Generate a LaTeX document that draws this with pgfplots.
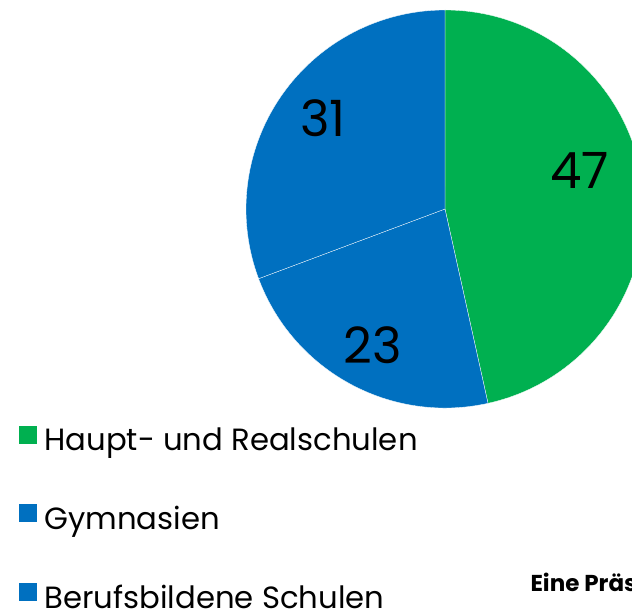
\documentclass[border=0pt]{standalone}
\usepackage{fontspec}
\setmainfont{Poppins}
\usepackage{pgfplots}
\usepackage{pgfplotstable}
\pgfplotsset{compat=1.18}
\definecolor{hrgreen}{HTML}{00B050}
\definecolor{gyblue}{HTML}{0070C0}
\definecolor{bsblue}{HTML}{0070C0}

\pgfplotstableread{
value color lx ly
47 hrgreen 0.678 0.196
23 gyblue -0.362 -0.683
31 bsblue -0.613 0.457
}\piedata

\begin{document}
\begin{tikzpicture}
\useasboundingbox (0,0) rectangle (632pt,613pt);
\clip (0,0) rectangle (632pt,613pt);
\begin{axis}[
  at={(445pt,404pt)}, anchor=center,
  width=398pt, height=398pt, scale only axis,
  hide axis, clip=false,
  xmin=-1, xmax=1, ymin=-1, ymax=1,
  legend style={at={(axis description cs:-0.57,-0.045)}, anchor=north west,
    draw=none, fill=none, inner sep=0pt, outer sep=0pt,
    font=\fontsize{30.7}{36}\selectfont, row sep=52pt, column sep=8pt,
    nodes={inner sep=0pt}},
  legend cell align=left,
]
\pgfmathsetmacro\total{0}
\pgfplotsforeachungrouped \r in {0,1,2}{%
  \pgfplotstablegetelem{\r}{value}\of\piedata\let\pv\pgfplotsretval
  \pgfmathsetmacro\total{\total+\pv}%
}
\pgfmathsetmacro\startang{90}
\pgfplotsforeachungrouped \r in {0,1,2}{%
  \pgfplotstablegetelem{\r}{value}\of\piedata\let\pv\pgfplotsretval
  \pgfplotstablegetelem{\r}{color}\of\piedata\let\pc\pgfplotsretval
  \pgfplotstablegetelem{\r}{lx}\of\piedata\let\lx\pgfplotsretval
  \pgfplotstablegetelem{\r}{ly}\of\piedata\let\ly\pgfplotsretval
  \pgfmathsetmacro\endang{\startang-\pv/\total*360}%
  \pgfmathsetmacro\sx{cos(\startang)}%
  \pgfmathsetmacro\sy{sin(\startang)}%
  \edef\temp{\noexpand\fill[fill=\pc, draw=white, line width=0.3pt] (axis cs:0,0) -- (axis cs:\sx,\sy) arc[start angle=\startang, end angle=\endang, radius=199pt] -- cycle;
    \noexpand\node[font=\noexpand\fontsize{50}{60}\noexpand\selectfont, text=black] at (axis cs:\lx,\ly) {\pv};}%
  \temp
  \global\let\startang\endang
}
\addlegendimage{legend image code/.code={\fill[hrgreen] (0pt,-3pt) rectangle (17pt,14pt);}}
\addlegendentry{Haupt- und Realschulen}
\addlegendimage{legend image code/.code={\fill[gyblue] (0pt,-3pt) rectangle (17pt,14pt);}}
\addlegendentry{Gymnasien}
\addlegendimage{legend image code/.code={\fill[bsblue] (0pt,-3pt) rectangle (17pt,14pt);}}
\addlegendentry{Berufsbildene Schulen}
\end{axis}
\node[anchor=base west, font=\bfseries\fontsize{23}{28}\selectfont] at (527pt,21pt) {Eine Präs};
\end{tikzpicture}
\end{document}
